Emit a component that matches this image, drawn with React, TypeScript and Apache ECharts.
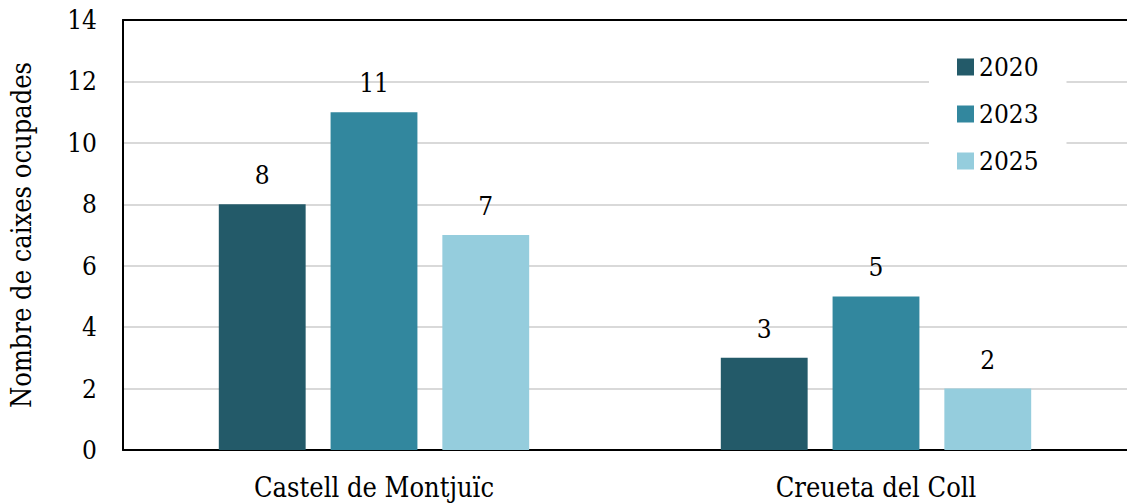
import React, { useEffect, useRef } from "react";
import * as echarts from "echarts";

const categories = ["Castell de Montjuïc", "Creueta del Coll"];
const years = ["2020", "2023", "2025"];
const values2020 = [8, 3];
const values2023 = [11, 5];
const values2025 = [7, 2];
const colors = ["#235a69", "#32879e", "#95cddd"];
const yAxisTitle = "Nombre de caixes ocupades";

const FONT = "DejaVu Serif Condensed";

export default function App() {
  const ref = useRef<HTMLDivElement>(null);
  useEffect(() => {
    if (!ref.current) return;
    const chart = echarts.init(ref.current, undefined, { renderer: "svg" });
    const seriesData = [values2020, values2023, values2025];
    chart.setOption({
      animation: false,
      textStyle: { fontFamily: FONT },
      grid: { left: 123, right: 0, top: 20, bottom: 53, containLabel: false },
      legend: {
        orient: "vertical",
        left: 929,
        top: 44,
        padding: [10, 28, 10, 28],
        backgroundColor: "#ffffff",
        itemWidth: 17,
        itemHeight: 17,
        itemGap: 21,
        icon: "rect",
        textStyle: { fontFamily: FONT, fontSize: 26, color: "#000", lineHeight: 25 },
        data: years,
      },
      xAxis: [
        {
          type: "category",
          data: categories,
          axisLine: { show: true, lineStyle: { color: "#000", width: 2 } },
          axisTick: { show: false },
          axisLabel: { fontFamily: FONT, fontSize: 27, color: "#000", margin: 24 },
        },
        {
          type: "category",
          data: categories,
          position: "top",
          axisLine: { show: true, onZero: false, lineStyle: { color: "#000", width: 2 } },
          axisTick: { show: false },
          axisLabel: { show: false },
        },
      ],
      yAxis: {
        type: "value",
        min: 0,
        max: 14,
        interval: 2,
        name: yAxisTitle,
        nameLocation: "middle",
        nameGap: 88,
        nameTextStyle: { fontFamily: FONT, fontSize: 27, color: "#000" },
        axisLine: { show: true, lineStyle: { color: "#000", width: 2 } },
        axisTick: { show: false },
        axisLabel: { fontFamily: FONT, fontSize: 26, color: "#000", margin: 26 },
        splitLine: { show: true, lineStyle: { color: "#d9d9d9", width: 2 } },
      },
      series: years.map((y, i) => ({
        name: y,
        type: "bar",
        data: seriesData[i],
        barWidth: "17.3%",
        barGap: "28.7%",
        itemStyle: { color: colors[i] },
        label: {
          show: true,
          position: "top",
          distance: 16,
          fontFamily: FONT,
          fontSize: 26,
          color: "#000",
        },
      })),
    });
    return () => chart.dispose();
  }, []);
  return <div ref={ref} style={{ width: 1127, height: 503, position: "absolute", left: 0, top: 0 }} />;
}
